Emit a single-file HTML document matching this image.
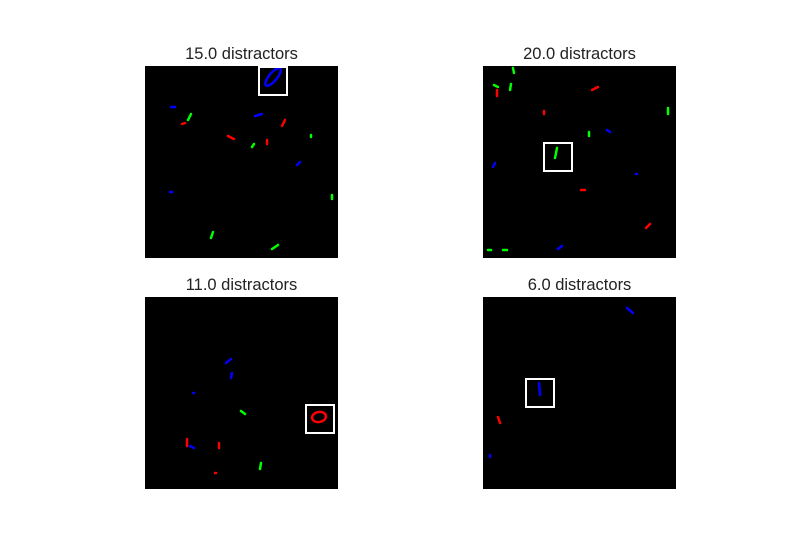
<!DOCTYPE html>
<html>
<head>
<meta charset="utf-8">
<style>
  html, body { margin: 0; padding: 0; background: #fff; }
  body { width: 800px; height: 550px; position: relative; overflow: hidden; font-family: "Liberation Sans", "DejaVu Sans", sans-serif; }
  svg { position: absolute; left: 0; top: 0; }
</style>
</head>
<body>
<svg id="fig" width="800" height="550" viewBox="0 0 800 550"></svg>
<script>
// Panel data
const distractorCounts = [15.0, 20.0, 11.0, 6.0];
const panelOrigins = [[145, 66], [483, 66], [145, 297], [483, 297]];
// target box top-left within each panel (image px, 193px panel)
const targetBoxes = [[114, 0], [61, 76], [161, 107], [43, 81]];
// marks per panel: [x, y, dx, dy, color]
const marksTL = [[26,41,4,0,'#00f'],[43,54,3,-6,'#0f0'],[37,58,3,-1,'#f00'],[83,70,6,3,'#f00'],[110,50,7,-2,'#00f'],[140,54,-3,6,'#f00'],[122,74,0,4,'#f00'],[107,81,2,-3,'#0f0'],[155,96,-3,3,'#00f'],[166,69,0,2,'#0f0'],[25,126,2,0,'#00f'],[187,129,0,4,'#0f0'],[68,166,-2,6,'#0f0'],[127,183,6,-4,'#0f0']];
const marksTR = [[11,19,4,2,'#0f0'],[14,24,0,6,'#f00'],[28,18,-1,6,'#0f0'],[30,2,1,5,'#0f0'],[109,24,6,-3,'#f00'],[61,45,0,3,'#f00'],[185,42,0,6,'#0f0'],[74,82,-2,10,'#0f0'],[106,66,0,4,'#0f0'],[124,64,3,2,'#00f'],[12,97,-2,4,'#00f'],[153,108,1,0,'#00f'],[98,124,4,0,'#f00'],[163,162,4,-4,'#f00'],[8,184,-3,0,'#0f0'],[20,184,4,0,'#0f0'],[75,183,4,-3,'#00f']];
const marksBL = [[81,66,5,-4,'#00f'],[87,76,-1,5,'#00f'],[48,96,1,0,'#00f'],[96,114,4,3,'#0f0'],[42,142,0,7,'#f00'],[45,149,4,2,'#00f'],[74,146,0,5,'#f00'],[116,166,-1,6,'#0f0'],[70,176,1,0,'#f00']];
const marksBR = [[144,11,6,5,'#00f'],[56,86,1,12,'#00f'],[15,120,2,6,'#f00'],[7,158,0,2,'#00f']];
const allMarks = [marksTL, marksTR, marksBL, marksBR];
// target digit ellipses: [cx, cy, rx, ry, rotation, color] relative to panel
const targetDigits = [[128,11,4,11,40,'#00f'],null,[174,120,7,5,-10,'#f00'],null];

const NS = 'http://www.w3.org/2000/svg';
const svg = document.getElementById('fig');
const panelSize = 193;
const boxSize = 29;

distractorCounts.forEach((count, i) => {
  const [ox, oy] = panelOrigins[i];
  const title = document.createElementNS(NS, 'text');
  title.setAttribute('x', ox + panelSize / 2);
  title.setAttribute('y', oy - 7);
  title.setAttribute('text-anchor', 'middle');
  title.setAttribute('font-size', '16.5');
  title.setAttribute('fill', '#222');
  title.setAttribute('font-family', 'Liberation Sans, DejaVu Sans, sans-serif');
  title.textContent = count.toFixed(1) + ' distractors';
  
  
  svg.appendChild(title);

  const bg = document.createElementNS(NS, 'rect');
  bg.setAttribute('x', ox);
  bg.setAttribute('y', oy);
  bg.setAttribute('width', panelSize);
  bg.setAttribute('height', panelSize - 1);
  bg.setAttribute('fill', '#000');
  
  
  svg.appendChild(bg);

  allMarks[i].forEach(m => {
    const ln = document.createElementNS(NS, 'line');
    ln.setAttribute('x1', ox + m[0]);
    ln.setAttribute('y1', oy + m[1]);
    ln.setAttribute('x2', ox + m[0] + m[2]);
    ln.setAttribute('y2', oy + m[1] + m[3]);
    ln.setAttribute('stroke', m[4]);
    ln.setAttribute('stroke-width', '2.5');
    ln.setAttribute('stroke-linecap', 'round');
    
    
    svg.appendChild(ln);
  });

  const d = targetDigits[i];
  if (d) {
    const el = document.createElementNS(NS, 'ellipse');
    el.setAttribute('cx', ox + d[0]);
    el.setAttribute('cy', oy + d[1]);
    el.setAttribute('rx', d[2]);
    el.setAttribute('ry', d[3]);
    el.setAttribute('transform', 'rotate(' + d[4] + ' ' + (ox + d[0]) + ' ' + (oy + d[1]) + ')');
    el.setAttribute('fill', 'none');
    el.setAttribute('stroke', d[5]);
    el.setAttribute('stroke-width', '2.5');
    
    
    svg.appendChild(el);
  }

  const [bx, by] = targetBoxes[i];
  const box = document.createElementNS(NS, 'rect');
  box.setAttribute('x', ox + bx);
  box.setAttribute('y', oy + by + 1);
  box.setAttribute('width', boxSize - 1);
  box.setAttribute('height', boxSize - 1);
  box.setAttribute('fill', 'none');
  box.setAttribute('stroke', '#fff');
  box.setAttribute('stroke-width', '2');
  
  
  svg.appendChild(box);
});
</script>
</body>
</html>
